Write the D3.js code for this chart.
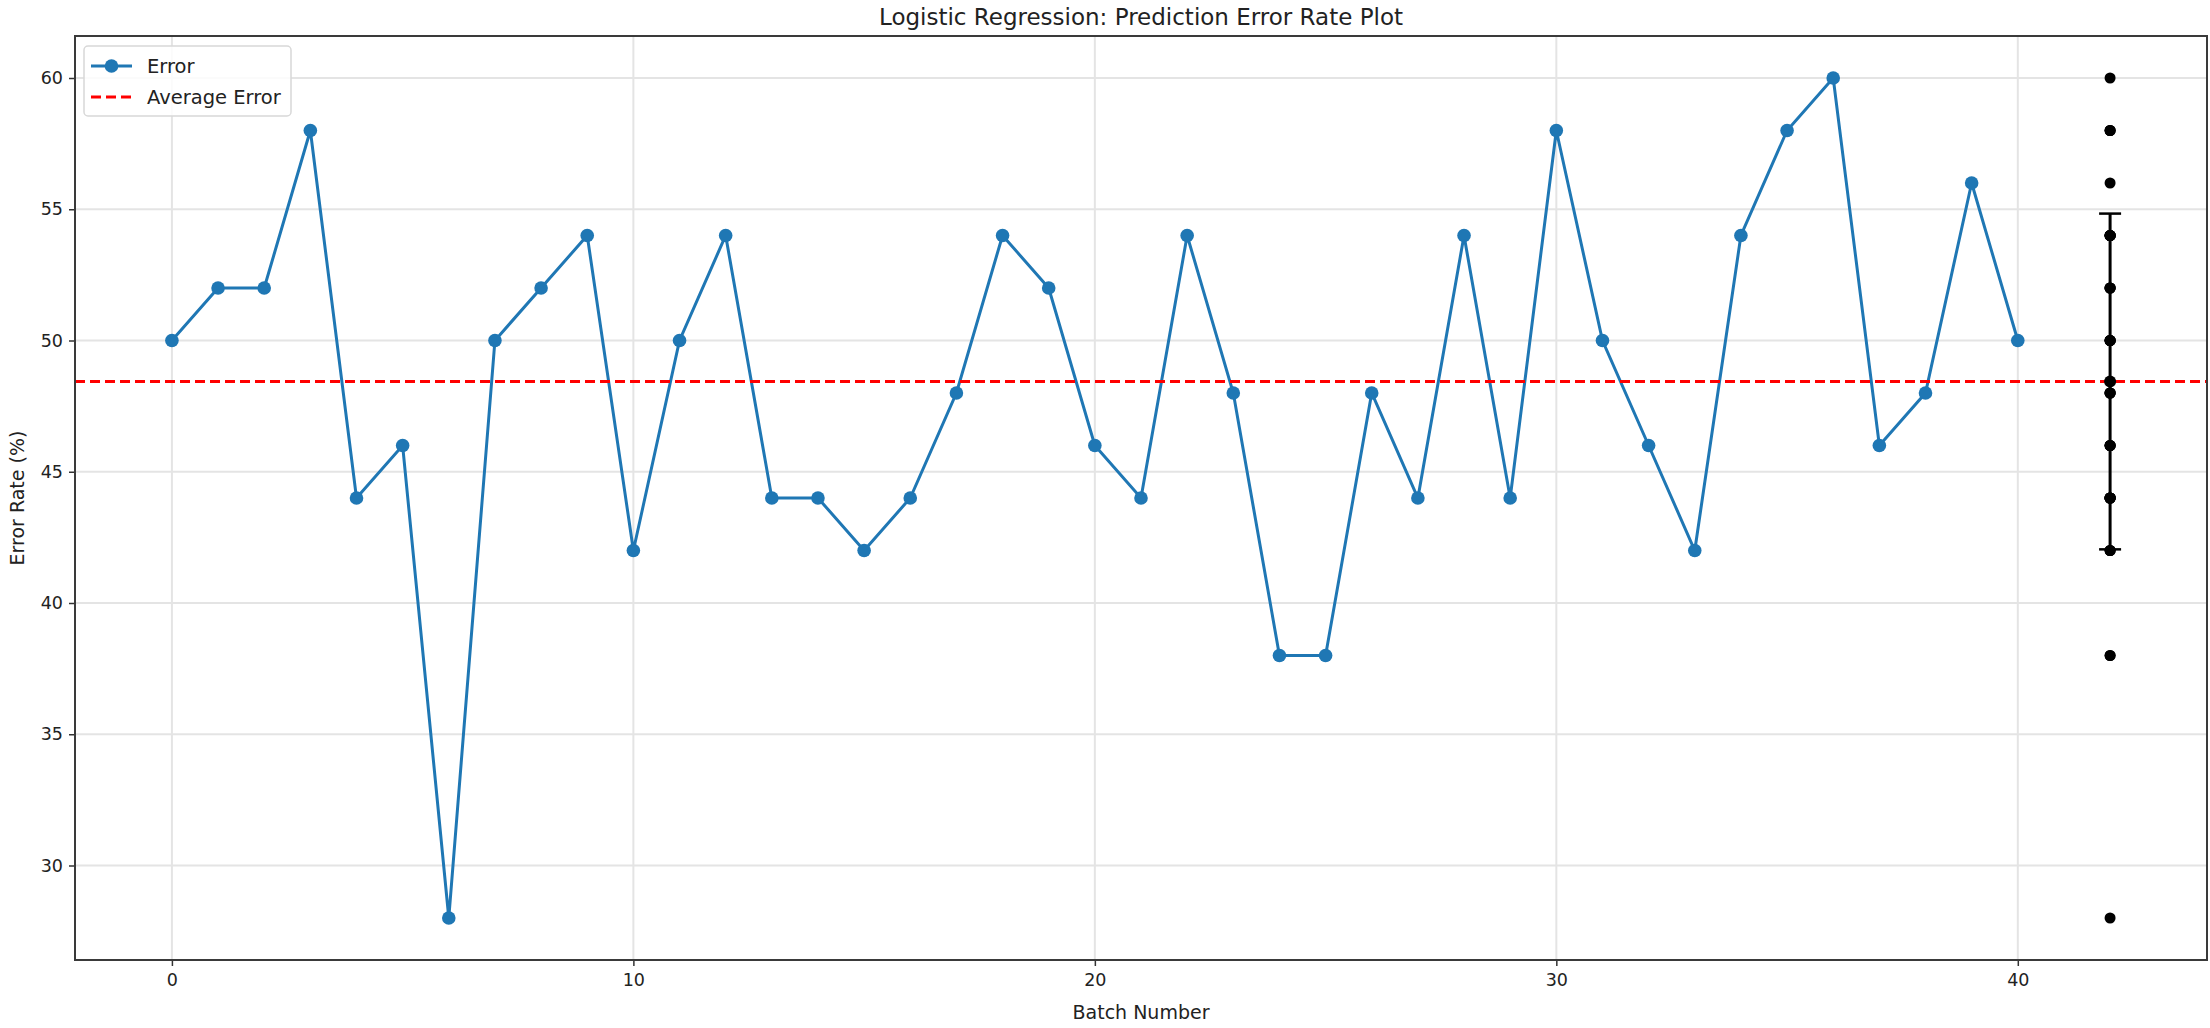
<!DOCTYPE html>
<html>
<head>
<meta charset="utf-8">
<script src="https://cdn.jsdelivr.net/npm/d3@7"></script>
<style>
  html, body { margin: 0; padding: 0; background: #fff; }
  svg text { font-family: 'DejaVu Sans', sans-serif; fill: #222; }
</style>
</head>
<body>
<div id="chart"></div>
<script>
// error rate per batch (batch number = index)
const errorRates = [
  50, 52, 52, 58, 44, 46, 28, 50, 52, 54,
  42, 50, 54, 44, 44, 42, 44, 48, 54, 52,
  46, 44, 54, 48, 38, 38, 48, 44, 54, 44,
  58, 50, 46, 42, 54, 58, 60, 46, 48, 56,
  50
];
const xTicks = [0, 10, 20, 30, 40];
const yTicks = [30, 35, 40, 45, 50, 55, 60];
const summaryX = 42; // where the spread of all errors is drawn
const legendLabels = ['Error', 'Average Error'];

const width = 2210;
const height = 1028;
const plot = { left: 75, right: 2207, top: 36, bottom: 960 };

const avgError = d3.mean(errorRates);
const stdError = d3.deviation(errorRates);

const svg = d3.select('#chart').append('svg')
  .attr('width', width)
  .attr('height', height);

const x = d3.scaleLinear().domain([-2.1, 44.1]).range([plot.left, plot.right]);
const y = d3.scaleLinear().domain([26.4, 61.6]).range([plot.bottom, plot.top]);

// grid
svg.append('g')
  .selectAll('line')
  .data(xTicks)
  .join('line')
  .attr('x1', d => x(d)).attr('x2', d => x(d))
  .attr('y1', plot.top).attr('y2', plot.bottom)
  .attr('stroke', '#e4e4e4')
  .attr('stroke-width', 2);

svg.append('g')
  .selectAll('line')
  .data(yTicks)
  .join('line')
  .attr('x1', plot.left).attr('x2', plot.right)
  .attr('y1', d => y(d)).attr('y2', d => y(d))
  .attr('stroke', '#e4e4e4')
  .attr('stroke-width', 2);

// axes
const xAxis = svg.append('g')
  .attr('transform', `translate(0,${plot.bottom})`)
  .call(d3.axisBottom(x).tickValues(xTicks).tickSize(6).tickPadding(8));
const yAxis = svg.append('g')
  .attr('transform', `translate(${plot.left},0)`)
  .call(d3.axisLeft(y).tickValues(yTicks).tickSize(6).tickPadding(6));

[xAxis, yAxis].forEach(axis => {
  axis.select('.domain').remove();
  axis.selectAll('.tick line').attr('stroke', '#333').attr('stroke-width', 1.5);
  axis.selectAll('.tick text')
    .attr('font-family', 'DejaVu Sans, sans-serif')
    .attr('font-size', 17.5)
    .attr('fill', '#222');
});

// error line with markers
const line = d3.line()
  .x((d, i) => x(i))
  .y(d => y(d));

svg.append('path')
  .datum(errorRates)
  .attr('d', line)
  .attr('fill', 'none')
  .attr('stroke', '#1f77b4')
  .attr('stroke-width', 3);

svg.append('g')
  .selectAll('circle')
  .data(errorRates)
  .join('circle')
  .attr('cx', (d, i) => x(i))
  .attr('cy', d => y(d))
  .attr('r', 6.8)
  .attr('fill', '#1f77b4');

// average line
svg.append('line')
  .attr('x1', plot.left).attr('x2', plot.right)
  .attr('y1', y(avgError)).attr('y2', y(avgError))
  .attr('stroke', '#ff0000')
  .attr('stroke-width', 3)
  .attr('stroke-dasharray', '10,5');

// error bar (mean +/- std) and all values
const eb = svg.append('g');
eb.append('line')
  .attr('x1', x(summaryX)).attr('x2', x(summaryX))
  .attr('y1', y(avgError - stdError)).attr('y2', y(avgError + stdError))
  .attr('stroke', '#000')
  .attr('stroke-width', 3);
[avgError - stdError, avgError + stdError].forEach(v => {
  eb.append('line')
    .attr('x1', x(summaryX) - 11).attr('x2', x(summaryX) + 11)
    .attr('y1', y(v)).attr('y2', y(v))
    .attr('stroke', '#000')
    .attr('stroke-width', 2.5);
});
eb.append('circle')
  .attr('cx', x(summaryX))
  .attr('cy', y(avgError))
  .attr('r', 6)
  .attr('fill', '#000');

svg.append('g')
  .selectAll('circle')
  .data(errorRates)
  .join('circle')
  .attr('cx', x(summaryX))
  .attr('cy', d => y(d))
  .attr('r', 5.5)
  .attr('fill', '#000');

// frame
svg.append('rect')
  .attr('x', plot.left).attr('y', plot.top)
  .attr('width', plot.right - plot.left)
  .attr('height', plot.bottom - plot.top)
  .attr('fill', 'none')
  .attr('stroke', '#3a3a3a')
  .attr('stroke-width', 2);

// title and labels
svg.append('text')
  .attr('x', (plot.left + plot.right) / 2)
  .attr('y', 25)
  .attr('text-anchor', 'middle')
  .attr('font-size', 23)
  .text('Logistic Regression: Prediction Error Rate Plot');

svg.append('text')
  .attr('x', (plot.left + plot.right) / 2)
  .attr('y', 1019)
  .attr('text-anchor', 'middle')
  .attr('font-size', 19)
  .text('Batch Number');

svg.append('text')
  .attr('transform', `translate(24,${(plot.top + plot.bottom) / 2}) rotate(-90)`)
  .attr('text-anchor', 'middle')
  .attr('font-size', 19)
  .text('Error Rate (%)');

// legend
const legend = svg.append('g').attr('transform', 'translate(84,46)');
legend.append('rect')
  .attr('width', 207).attr('height', 70)
  .attr('rx', 4)
  .attr('fill', '#fff')
  .attr('fill-opacity', 0.85)
  .attr('stroke', '#d8d8d8')
  .attr('stroke-width', 1.5);

legend.append('line')
  .attr('x1', 7).attr('x2', 48).attr('y1', 20).attr('y2', 20)
  .attr('stroke', '#1f77b4').attr('stroke-width', 3);
legend.append('circle')
  .attr('cx', 27.5).attr('cy', 20).attr('r', 6.8)
  .attr('fill', '#1f77b4');
legend.append('line')
  .attr('x1', 7).attr('x2', 48).attr('y1', 51).attr('y2', 51)
  .attr('stroke', '#ff0000').attr('stroke-width', 3)
  .attr('stroke-dasharray', '10,5');

legend.selectAll('text.lbl')
  .data(legendLabels)
  .join('text')
  .attr('class', 'lbl')
  .attr('x', 63)
  .attr('y', (d, i) => 20 + i * 31 + 7)
  .attr('font-size', 19.5)
  .text(d => d);
</script>
</body>
</html>
